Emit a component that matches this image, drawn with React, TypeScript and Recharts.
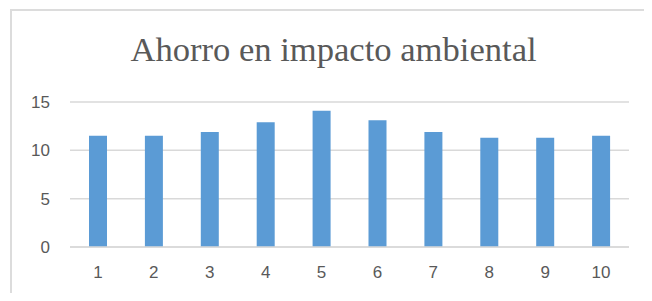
import React from "react";
import { BarChart, Bar, XAxis, YAxis, CartesianGrid } from "recharts";

const categories = ["1", "2", "3", "4", "5", "6", "7", "8", "9", "10"];
const values = [11.5, 11.5, 11.9, 12.9, 14.1, 13.1, 11.9, 11.3, 11.3, 11.5];
const yTicks = [0, 5, 10, 15];
const title = "Ahorro en impacto ambiental";

const data = categories.map((c, i) => ({ name: c, value: values[i] }));

export default function App() {
  return (
    <div style={{ position: "relative", margin: -8, width: 652, height: 301, background: "#fff", overflow: "hidden" }}>
      <svg width={652} height={301} style={{ position: "absolute", left: 0, top: 0 }}>
        <path d="M11 301 L11 10 L652 10" fill="none" stroke="#dcdcdc" strokeWidth={2} />
        <g transform="translate(333.5,61) scale(1.33)">
          <text x={0} y={0} textAnchor="middle" fill="#595959" fontSize={26} fontFamily="Liberation Serif">
            {title}
          </text>
        </g>
      </svg>
      <div style={{ position: "absolute", left: 0, top: 0 }}>
        <BarChart
          width={652}
          height={301}
          data={data}
          margin={{ top: 102, right: 23, bottom: 14, left: 10 }}
          barCategoryGap="34%"
        >
          <CartesianGrid vertical={false} stroke="#d9d9d9" strokeWidth={1.5} />
          <XAxis
            dataKey="name"
            height={40}
            tickLine={false}
            tickSize={0}
            tickMargin={19}
            axisLine={{ stroke: "#d9d9d9", strokeWidth: 1.5 }}
            tick={{ fill: "#595959", fontSize: 17, fontFamily: "Liberation Sans" }}
          />
          <YAxis
            width={60}
            domain={[0, 15]}
            ticks={yTicks}
            tickLine={false}
            axisLine={false}
            tickSize={0}
            tickMargin={20}
            tick={{ fill: "#595959", fontSize: 17, fontFamily: "Liberation Sans" }}
          />
          <Bar dataKey="value" fill="#5B9BD5" barSize={18} isAnimationActive={false} />
        </BarChart>
      </div>
    </div>
  );
}
